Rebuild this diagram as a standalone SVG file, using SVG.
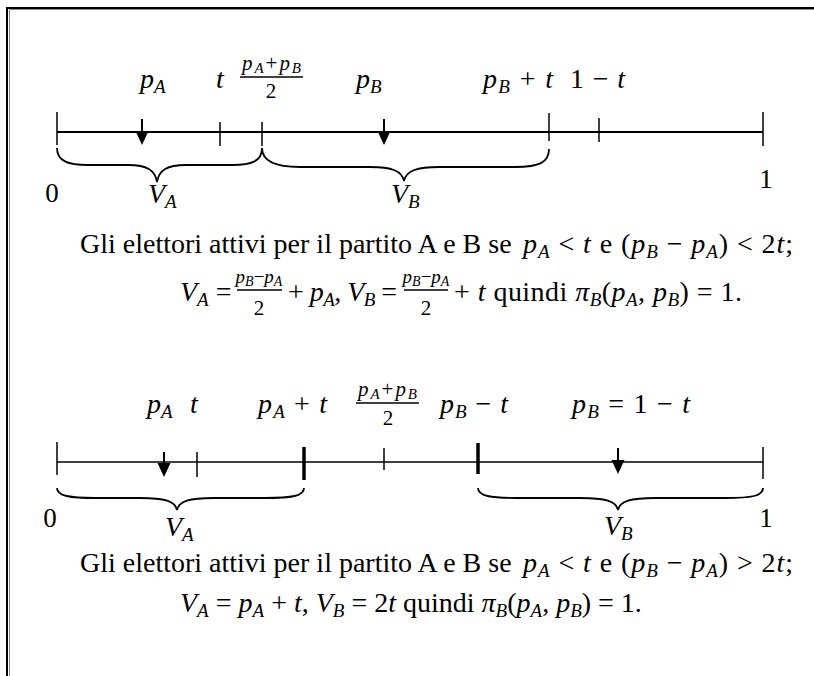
<svg xmlns="http://www.w3.org/2000/svg" width="814" height="676" viewBox="0 0 814 676">
<style>
.tx{font-family:"Liberation Serif",serif;font-size:28px;fill:#000}
.lb{font-family:"Liberation Serif",serif;font-size:27px;fill:#000}
.mi{font-style:italic}
.sb{font-size:19px;font-style:italic}
.fr{font-family:"Liberation Serif",serif;font-size:21px;fill:#000}
.fn{font-family:"Liberation Serif",serif;font-size:19px;fill:#000}
.fs{font-size:15px;font-style:italic}
.ft{font-size:14px;font-style:italic}
.ax{stroke:#000;fill:none}
.br{stroke:#000;stroke-width:1.8;fill:none}
</style>
<defs>
<path id="head" d="M-6.5,0 L6.5,0 L0,14 Z" fill="#000"/>
</defs>
<rect width="814" height="676" fill="#fff"/>
<g id="frame">
<path d="M7,676 V8 H814" fill="none" stroke="#000" stroke-width="2"/>
<path d="M9.5,676 V9.5 H814" fill="none" stroke="#888" stroke-width="1"/>
</g>

<g id="diagram1">
<g id="axis1" class="ax">
<line x1="57" y1="132" x2="763" y2="132" stroke-width="2"/>
<line x1="57" y1="112" x2="57" y2="145" stroke-width="1.5"/>
<line x1="220" y1="122" x2="220" y2="146" stroke-width="1.5"/>
<line x1="262" y1="122" x2="262" y2="146" stroke-width="1.5"/>
<line x1="549" y1="113" x2="549" y2="141" stroke-width="1.5"/>
<line x1="599" y1="118" x2="599" y2="142" stroke-width="1.5"/>
<line x1="763" y1="112" x2="763" y2="146" stroke-width="1.5"/>
</g>
<g id="arrows1">
<line x1="142" y1="119" x2="142" y2="132" stroke="#000" stroke-width="2"/>
<use href="#head" x="142" y="131"/>
<line x1="384" y1="119" x2="384" y2="132" stroke="#000" stroke-width="2"/>
<use href="#head" x="384" y="131"/>
</g>
<g id="braces1">
<path class="br" d="M57,148 C57,161 68,165 88,165 L128,165 C147,165 155,170 157,182 C159,170 167,165 186,165 L232,165 C252,165 262,161 262,148"/>
<path class="br" d="M262,148 C262,161 274,167 300,167 L370,167 C392,167 402,171 404,181 C406,171 416,167 440,167 L515,167 C540,167 549,162 549,149"/>
</g>
<g id="labels1">
<text class="tx mi" x="140" y="88">p<tspan class="sb" dy="5">A</tspan></text>
<text class="tx mi" x="216" y="88">t</text>
<text class="fr mi" x="242" y="70" textLength="59">p<tspan class="fs" dy="3">A</tspan><tspan font-style="normal" dy="-3">+</tspan>p<tspan class="fs" dy="3">B</tspan></text>
<line x1="240" y1="77" x2="303" y2="77" stroke="#000" stroke-width="1.7"/>
<text class="fr" x="271" y="98" text-anchor="middle">2</text>
<text class="tx mi" x="356" y="88">p<tspan class="sb" dy="5">B</tspan></text>
<text class="tx" x="483" y="88" textLength="70"><tspan class="mi">p</tspan><tspan class="sb" dy="5">B</tspan><tspan dy="-5"> + </tspan><tspan class="mi">t</tspan></text>
<text class="tx" x="570" y="88" textLength="55">1 − <tspan class="mi">t</tspan></text>
<text class="lb" x="52" y="202" text-anchor="middle">0</text>
<text class="lb" x="766" y="188" text-anchor="middle">1</text>
<text class="tx mi" x="148" y="203">V<tspan class="sb" dy="5">A</tspan></text>
<text class="tx mi" x="391" y="203">V<tspan class="sb" dy="5">B</tspan></text>
</g>
<g id="caption1">
<text class="tx" x="80" y="253">Gli elettori attivi per il partito A e B se</text>
<text class="tx" x="523" y="253" textLength="270"><tspan class="mi">p</tspan><tspan class="sb" dy="5">A</tspan><tspan dy="-5"> &lt; </tspan><tspan class="mi">t</tspan><tspan> e (</tspan><tspan class="mi">p</tspan><tspan class="sb" dy="5">B</tspan><tspan dy="-5"> − </tspan><tspan class="mi">p</tspan><tspan class="sb" dy="5">A</tspan><tspan dy="-5">) &lt; 2</tspan><tspan class="mi">t</tspan><tspan>;</tspan></text>
<text class="tx" x="180" y="301"><tspan class="mi">V</tspan><tspan class="sb" dy="5">A</tspan><tspan dy="-5"> =</tspan></text>
<text class="fn mi" x="259" y="283" text-anchor="middle">p<tspan class="ft" dy="3">B</tspan><tspan font-style="normal" dy="-3">−</tspan>p<tspan class="ft" dy="3">A</tspan></text>
<line x1="237" y1="290" x2="282" y2="290" stroke="#000" stroke-width="1.4"/>
<text class="fr" x="259" y="315" text-anchor="middle">2</text>
<text class="tx" x="288" y="301" textLength="109">+ <tspan class="mi">p</tspan><tspan class="sb" dy="5">A</tspan><tspan dy="-5">, </tspan><tspan class="mi">V</tspan><tspan class="sb" dy="5">B</tspan><tspan dy="-5"> =</tspan></text>
<text class="fn mi" x="426" y="283" text-anchor="middle">p<tspan class="ft" dy="3">B</tspan><tspan font-style="normal" dy="-3">−</tspan>p<tspan class="ft" dy="3">A</tspan></text>
<line x1="404" y1="290" x2="448" y2="290" stroke="#000" stroke-width="1.4"/>
<text class="fr" x="426" y="315" text-anchor="middle">2</text>
<text class="tx" x="454" y="301" textLength="288">+ <tspan class="mi">t</tspan> quindi <tspan class="mi">π</tspan><tspan class="sb" dy="5">B</tspan><tspan dy="-5">(</tspan><tspan class="mi">p</tspan><tspan class="sb" dy="5">A</tspan><tspan dy="-5">, </tspan><tspan class="mi">p</tspan><tspan class="sb" dy="5">B</tspan><tspan dy="-5">) = 1.</tspan></text>
</g>
</g>

<g id="diagram2">
<g id="axis2" class="ax">
<line x1="57" y1="462" x2="763" y2="462" stroke-width="1.6"/>
<line x1="57" y1="442" x2="57" y2="475" stroke-width="1.5"/>
<line x1="197" y1="452" x2="197" y2="477" stroke-width="1.5"/>
<line x1="304" y1="447" x2="304" y2="480" stroke-width="3.5"/>
<line x1="384" y1="448" x2="384" y2="470" stroke-width="1.5"/>
<line x1="478" y1="443" x2="478" y2="474" stroke-width="3.5"/>
<line x1="763" y1="447" x2="763" y2="479" stroke-width="1.5"/>
</g>
<g id="arrows2">
<line x1="164" y1="452" x2="164" y2="464" stroke="#000" stroke-width="2"/>
<use href="#head" x="164" y="463"/>
<line x1="618" y1="448" x2="618" y2="461" stroke="#000" stroke-width="2"/>
<use href="#head" x="618" y="460"/>
</g>
<g id="braces2">
<path class="br" d="M57,488 C57,496 70,498 95,498 L140,498 C165,498 175,501 177,510 C179,501 189,498 214,498 L265,498 C292,498 304,496 304,488"/>
<path class="br" d="M478,488 C478,496 491,498 516,498 L580,498 C606,498 616,501 618,510 C620,501 630,498 656,498 L725,498 C752,498 763,496 763,488"/>
</g>
<g id="labels2">
<text class="tx mi" x="147" y="413">p<tspan class="sb" dy="5">A</tspan></text>
<text class="tx mi" x="190" y="413">t</text>
<text class="tx" x="258" y="413" textLength="69"><tspan class="mi">p</tspan><tspan class="sb" dy="5">A</tspan><tspan dy="-5"> + </tspan><tspan class="mi">t</tspan></text>
<text class="fr mi" x="358" y="396" textLength="59">p<tspan class="fs" dy="3">A</tspan><tspan font-style="normal" dy="-3">+</tspan>p<tspan class="fs" dy="3">B</tspan></text>
<line x1="356" y1="403" x2="419" y2="403" stroke="#000" stroke-width="1.7"/>
<text class="fr" x="388" y="425" text-anchor="middle">2</text>
<text class="tx" x="440" y="413" textLength="68"><tspan class="mi">p</tspan><tspan class="sb" dy="5">B</tspan><tspan dy="-5"> − </tspan><tspan class="mi">t</tspan></text>
<text class="tx" x="572" y="413" textLength="118"><tspan class="mi">p</tspan><tspan class="sb" dy="5">B</tspan><tspan dy="-5"> = 1 − </tspan><tspan class="mi">t</tspan></text>
<text class="lb" x="50" y="527" text-anchor="middle">0</text>
<text class="lb" x="766" y="527" text-anchor="middle">1</text>
<text class="tx mi" x="165" y="536">V<tspan class="sb" dy="5">A</tspan></text>
<text class="tx mi" x="604" y="535">V<tspan class="sb" dy="5">B</tspan></text>
</g>
<g id="caption2">
<text class="tx" x="80" y="572">Gli elettori attivi per il partito A e B se</text>
<text class="tx" x="523" y="572" textLength="270"><tspan class="mi">p</tspan><tspan class="sb" dy="5">A</tspan><tspan dy="-5"> &lt; </tspan><tspan class="mi">t</tspan><tspan> e (</tspan><tspan class="mi">p</tspan><tspan class="sb" dy="5">B</tspan><tspan dy="-5"> − </tspan><tspan class="mi">p</tspan><tspan class="sb" dy="5">A</tspan><tspan dy="-5">) &gt; 2</tspan><tspan class="mi">t</tspan><tspan>;</tspan></text>
<text class="tx" x="180" y="612"><tspan class="mi">V</tspan><tspan class="sb" dy="5">A</tspan><tspan dy="-5"> = </tspan><tspan class="mi">p</tspan><tspan class="sb" dy="5">A</tspan><tspan dy="-5"> + </tspan><tspan class="mi">t</tspan><tspan>, </tspan><tspan class="mi">V</tspan><tspan class="sb" dy="5">B</tspan><tspan dy="-5"> = 2</tspan><tspan class="mi">t</tspan><tspan> quindi </tspan><tspan class="mi">π</tspan><tspan class="sb" dy="5">B</tspan><tspan dy="-5">(</tspan><tspan class="mi">p</tspan><tspan class="sb" dy="5">A</tspan><tspan dy="-5">, </tspan><tspan class="mi">p</tspan><tspan class="sb" dy="5">B</tspan><tspan dy="-5">) = 1.</tspan></text>
</g>
</g>
</svg>
